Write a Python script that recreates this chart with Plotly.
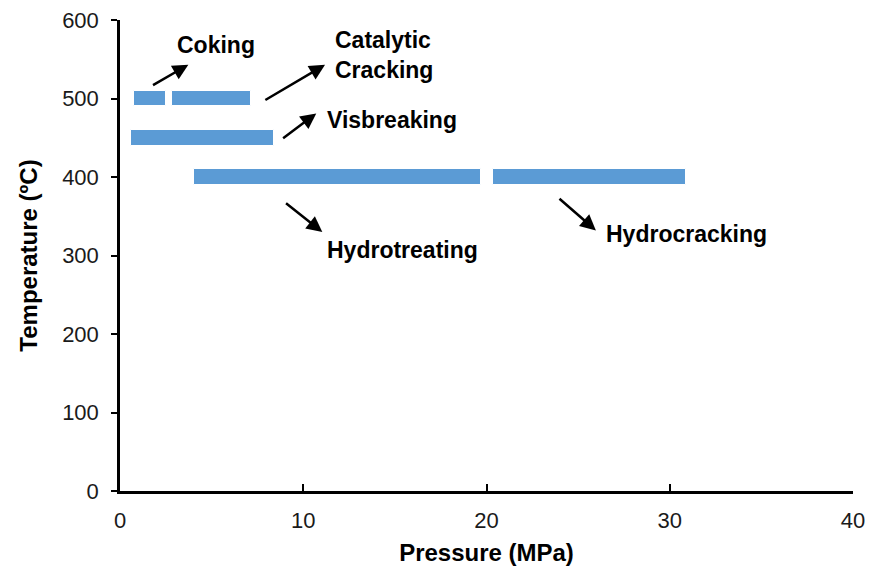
import plotly.graph_objects as go

# refinery processes: pressure range (MPa) at a typical temperature (C)
processes = ["Coking", "Catalytic Cracking", "Visbreaking", "Hydrotreating", "Hydrocracking"]
p_start = [0.75, 2.85, 0.6, 4.05, 20.35]
p_end = [2.5, 7.15, 8.4, 19.7, 30.9]
temperature = [500, 500, 450, 400, 400]

x_ticks = [0, 10, 20, 30, 40]
y_ticks = [0, 100, 200, 300, 400, 500, 600]

FONT = "Liberation Sans, Arial, sans-serif"
BLUE = "#5B9BD5"

fig = go.Figure()
fig.add_trace(go.Bar(
    y=temperature,
    x=[e - s for s, e in zip(p_start, p_end)],
    base=p_start,
    orientation="h",
    width=20,
    marker=dict(color=BLUE, line=dict(color="white", width=1)),
    text=processes,
    textposition="none",
    hoverinfo="text",
))

# label text, arrow head (x, y) and arrow tail (ax, ay) in data units
labels = [
    ("Coking", 3.0, 568, 3.73, 543, 1.72, 516),
    ("Catalytic<br>Cracking", 11.6, 555, 11.19, 543, 7.85, 497),
    ("Visbreaking", 11.2, 473, 10.71, 481, 8.82, 448),
    ("Hydrotreating", 11.2, 307, 11.04, 330, 8.98, 368),
    ("Hydrocracking", 26.4, 327, 25.97, 332, 23.9, 374),
]
for txt, tx, ty, hx, hy, ax, ay in labels:
    fig.add_annotation(x=hx, y=hy, ax=ax, ay=ay, xref="x", yref="y",
                       axref="x", ayref="y", text="", showarrow=True,
                       arrowhead=2, arrowsize=1.25, arrowwidth=2.5, arrowcolor="black")
    fig.add_annotation(x=tx, y=ty, xref="x", yref="y", text="<b>" + txt + "</b>",
                       showarrow=False, xanchor="left", yanchor="middle", align="left",
                       font=dict(family=FONT, size=23, color="black"))

# the page body adds an 8px margin; keep the right end clear of the window edge
fig.update_layout(
    width=867, height=558,
    margin=dict(l=112, r=22, t=12, b=75),
    plot_bgcolor="white", paper_bgcolor="white",
    showlegend=False, bargap=0,
    font=dict(family=FONT, size=22, color="#1a1a1a"),
)
fig.update_xaxes(
    range=[0, 40], tickvals=x_ticks, showgrid=False, zeroline=False,
    showline=True, linecolor="black", linewidth=2.5,
    ticks="inside", ticklen=7, tickwidth=2, tickcolor="black",
    ticklabelstandoff=8, automargin=False, ticklabeloverflow="allow",
    title=dict(text="<b>Pressure (MPa)</b>", font=dict(size=24, color="black"), standoff=13),
)
fig.update_yaxes(
    range=[0, 600], tickvals=y_ticks, showgrid=False, zeroline=False,
    showline=True, linecolor="black", linewidth=2.5,
    ticks="outside", ticklen=6, tickwidth=2, tickcolor="black",
    ticklabelstandoff=8, automargin=False, ticklabeloverflow="allow",
    title=dict(text="<b>Temperature (ºC)</b>", font=dict(size=24, color="black"), standoff=18),
)

fig.write_html("out.html")
